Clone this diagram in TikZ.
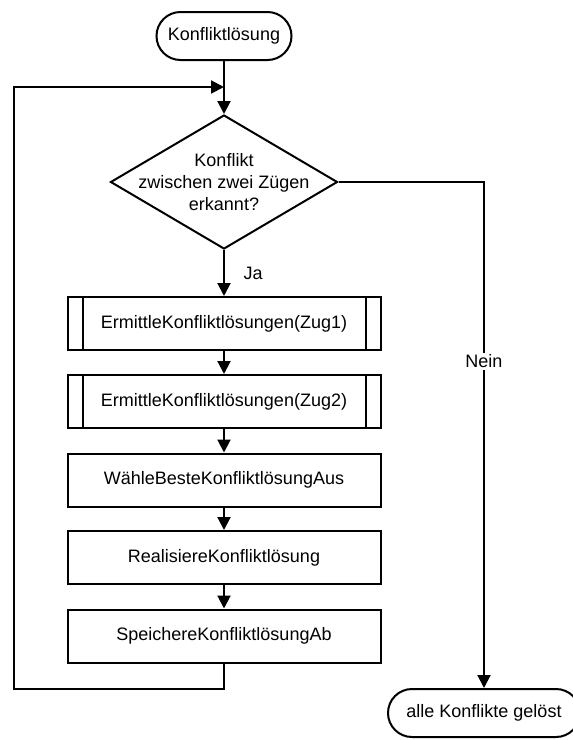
\documentclass[tikz,border=0pt]{standalone}
\usepackage{fontspec}
\setmainfont{Liberation Sans}
\usetikzlibrary{shapes.geometric,shapes.misc,arrows.meta}

\begin{document}
\begin{tikzpicture}[x=0.5pt,y=-0.5pt,
  every node/.style={font=\fontsize{9}{10.85}\selectfont},
  line/.style={draw=black,line width=1pt},
  flow/.style={line,-{Triangle[length=6.5pt,width=6.5pt]}},
  terminal/.style={rounded rectangle,draw,line width=1pt,minimum height=24pt,inner sep=0pt},
  procbox/.style={rectangle,draw,line width=1pt,minimum width=156.5pt,minimum height=26.5pt,inner sep=0pt},
  decision/.style={diamond,draw,line width=1pt,minimum width=113.5pt,minimum height=67pt,inner sep=0pt}]

  \useasboundingbox (0,0) rectangle (573,740);

  % start / end terminals
  \node[terminal,minimum width=67.5pt] (start) at (224,36) {Konfliktlösung};
  \node[terminal,minimum width=96pt] (end) at (484,713) {alle Konflikte gelöst};

  % decision
  \node[decision] (d) at (224,182) {};
  \node[align=center] (dtext) at (d.center) {Konflikt\\zwischen zwei Zügen\\erkannt?};

  % process steps
  \node[procbox] (b1) at (224,323.5) {ErmittleKonfliktlösungen(Zug1)};
  \node[procbox] (b2) at (224,401.5) {ErmittleKonfliktlösungen(Zug2)};
  \node[procbox] (b3) at (224,480) {WähleBesteKonfliktlösungAus};
  \node[procbox] (b4) at (224,557.5) {RealisiereKonfliktlösung};
  \node[procbox] (b5) at (224,636) {SpeichereKonfliktlösungAb};

  % sub-process side bars
  \foreach \b in {b1,b2} {
    \draw[line] ([xshift=8pt]\b.north west) -- ([xshift=8pt]\b.south west);
    \draw[line] ([xshift=-8pt]\b.north east) -- ([xshift=-8pt]\b.south east);
  }

  % connectors
  \coordinate (join) at (224,87);
  \coordinate (loopcorner) at (14,689);

  \draw[line] (start.south) -- (join);
  \draw[flow] (join) -- (d.north);
  \draw[flow] (d.south) -- node[right=6pt] {Ja} (b1.north);
  \draw[flow] (b1) -- (b2);
  \draw[flow] (b2) -- (b3);
  \draw[flow] (b3) -- (b4);
  \draw[flow] (b4) -- (b5);
  \draw[flow] (b5.south) |- (loopcorner) |- (join);
  \draw[flow] (d.east) -| node[pos=0.677,fill=white,inner sep=1pt] {Nein} (end.north);
\end{tikzpicture}
\end{document}
